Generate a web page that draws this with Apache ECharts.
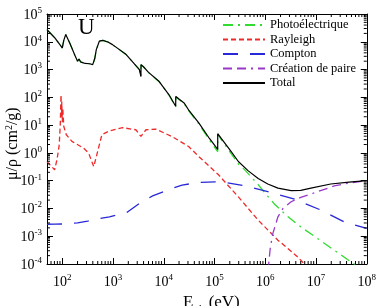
<!DOCTYPE html>
<html>
<head>
<meta charset="utf-8">
<script src="https://cdn.jsdelivr.net/npm/echarts@6/dist/echarts.min.js"></script>
<style>
  html, body { margin: 0; padding: 0; background: #fff; }
  #main { width: 379px; height: 306px; }
</style>
</head>
<body>
<div id="main"></div>
<script>
// énergie en eV, coefficients en cm²/g
const totalE = [50, 70.8, 89, 100, 107, 117, 141, 178, 200, 214, 229, 282, 347, 398, 437, 468, 537, 631, 794, 977,
  1820, 3310, 3548, 3565, 3981, 5012, 8128, 12590, 17170, 17250, 19950, 20650, 20990, 25120, 31620, 48980, 79430,
  115600, 115700, 138000, 199500, 295100, 457000, 724400, 1122000, 1778000, 3236000, 5012000, 7943000, 19500000,
  44700000, 100000000];
const totalMu = [27500, 14000, 8000, 6000, 11200, 18200, 8900, 3200, 2000, 2400, 1900, 1660, 1620, 1510, 2500, 5200,
  10500, 11200, 9800, 7900, 3470, 1000, 560, 1510, 1260, 790, 370, 126, 48, 107, 87, 76, 95, 63, 33, 12, 3.3,
  1.35, 4.9, 3.2, 1.3, 0.49, 0.23, 0.12, 0.076, 0.054, 0.044, 0.045, 0.054, 0.076, 0.089, 0.1];

const photoE = [50, 70.8, 89, 100, 107, 117, 141, 178, 200, 214, 229, 282, 347, 398, 437, 468, 537, 631, 794, 977,
  1820, 3310, 3548, 3565, 3981, 5012, 8128, 12590, 17170, 17250, 19950, 20650, 20990, 25120, 31620, 48980, 79430,
  115600, 115700, 138000, 199500, 295100, 398100, 724400, 1000000, 1549000, 2818000, 5129000, 10720000, 28180000,
  41690000, 100000000];
const photoMu = [27400, 13900, 7950, 5950, 11100, 18100, 8850, 3180, 1990, 2390, 1890, 1650, 1610, 1500, 2490, 5180,
  10450, 11150, 9750, 7850, 3440, 990, 550, 1500, 1250, 780, 365, 123, 46, 104, 84, 73, 92, 60, 31, 11, 2.9,
  1.1, 4.6, 2.9, 1.1, 0.40, 0.24, 0.072, 0.035, 0.0138, 0.005, 0.0021, 0.00083, 0.00024, 0.000145, 0.00005];

const rayE = [50, 57.5, 70.8, 79.4, 87.1, 91.2, 94.4, 96.6, 97.7, 100, 102.3, 107.2, 120.2, 154.9, 263, 331, 417,
  479, 603, 851, 1549, 2818, 3548, 4467, 6918, 14450, 30900, 48980, 120200, 295100, 724400, 1778000, 4365000,
  5888000, 15850000];
const rayMu = [0.49, 0.37, 0.245, 0.63, 1.95, 10, 123, 20, 71, 12.6, 40, 8.9, 4.5, 2.6, 1.48, 0.98, 0.32, 0.85,
  4.5, 6.2, 8.1, 6.8, 3.9, 6.8, 7.2, 3.9, 1.7, 0.74, 0.162, 0.026, 0.0038, 0.00072, 0.00018, 0.0001, 0.000016];

const compE = [50, 70.8, 100, 141, 200, 316, 427, 851, 1820, 3311, 6026, 11750, 22910, 48980, 102300, 138000,
  398100, 1122000, 3802000, 12590000, 35480000, 100000000];
const compMu = [0.0027, 0.00272, 0.00275, 0.0029, 0.003, 0.0035, 0.004, 0.005, 0.0069, 0.0151, 0.0282, 0.0457,
  0.069, 0.087, 0.091, 0.091, 0.065, 0.040, 0.0214, 0.0087, 0.0033, 0.0019];

const pairE = [1023000, 1122000, 1175000, 1259000, 1413000, 1778000, 2239000, 3236000, 5012000, 7943000,
  22910000, 50120000, 100000000];
const pairMu = [0.0000032, 0.00005, 0.000112, 0.0004, 0.00126, 0.005, 0.01, 0.0174, 0.0251, 0.0331, 0.0646,
  0.085, 0.098];

const names = ['Photoélectrique', 'Rayleigh', 'Compton', 'Création de paire', 'Total'];

const xMin = 50, xMax = 1e8, yMin = 1e-4, yMax = 1e5;

// graduations secondaires (2..9 x 10^k)
const xMinor = [], yMinor = [];
for (let k = 1; k < 8; k++) for (let m = 2; m < 10; m++) {
  const v = m * Math.pow(10, k);
  if (v > xMin && v < xMax) xMinor.push([v, 1]);
}
for (let k = -4; k < 5; k++) for (let m = 2; m < 10; m++) yMinor.push([100, m * Math.pow(10, k)]);

const serif = 'Liberation Serif';

function pow10Label(v) {
  const e = Math.round(Math.log10(v));
  if (Math.abs(Math.log10(v) - e) > 1e-6) return '';
  return '{b|10}{s|' + e + '}';
}
const labelRich = {
  b: { fontFamily: serif, fontSize: 14, color: '#000', lineHeight: 16, verticalAlign: 'bottom' },
  s: { fontFamily: serif, fontSize: 9, color: '#000', lineHeight: 16, verticalAlign: 'top' }
};

const pairs = (xs, ys) => xs.map((x, i) => [x, ys[i]]);

const myChart = echarts.init(document.getElementById('main'));

const axisCommon = {
  type: 'log',
  logBase: 10,
  axisLine: { show: true, onZero: false, lineStyle: { color: '#000', width: 1 } },
  axisTick: { show: true, inside: true, length: 6, lineStyle: { color: '#000' } },
  splitLine: { show: false },
  minorTick: { show: false }
};

const option = {
  animation: false,
  backgroundColor: '#fff',
  grid: { left: 47, right: 9, top: 14, bottom: 42 },
  legend: {
    data: names,
    orient: 'vertical',
    left: 222,
    top: 18,
    padding: 0,
    itemWidth: 42,
    itemHeight: 10,
    itemGap: 0.5,
    itemStyle: { opacity: 0 },
    textStyle: { fontFamily: serif, fontSize: 12.5, color: '#000', lineHeight: 14 }
  },
  xAxis: [
    Object.assign({}, axisCommon, {
      min: xMin, max: xMax, splitNumber: 7, position: 'bottom',
      axisLabel: { formatter: pow10Label, rich: labelRich, margin: 9 }
    }),
    Object.assign({}, axisCommon, {
      min: xMin, max: xMax, splitNumber: 7, position: 'top',
      axisLabel: { show: false }
    })
  ],
  yAxis: [
    Object.assign({}, axisCommon, {
      min: yMin, max: yMax, splitNumber: 9, position: 'left',
      axisLabel: { formatter: pow10Label, rich: labelRich, margin: 5 }
    }),
    Object.assign({}, axisCommon, {
      min: yMin, max: yMax, splitNumber: 9, position: 'right',
      axisLabel: { show: false }
    })
  ],
  graphic: [
    { type: 'text', left: 78, top: 16, style: { text: 'U', font: '23px "Liberation Serif"', fill: '#000' } },
    {
      type: 'text', x: 4, y: 180, rotation: Math.PI / 2,
      style: {
        text: 'μ/ρ (cm{s|2}/g)', fill: '#000', font: '16px "Liberation Serif"',
        rich: {
          s: { fontSize: 10, fontFamily: serif, verticalAlign: 'top', lineHeight: 18 }
        }
      }
    },
    {
      type: 'text', x: 183, y: 291,
      style: {
        text: 'E{sub|ph} (eV)', fill: '#000', font: '17px "Liberation Serif"',
        rich: { sub: { fontSize: 11, fontFamily: serif, verticalAlign: 'bottom', lineHeight: 24 } }
      }
    }
  ],
  series: [
    {
      name: 'Photoélectrique', type: 'line', symbol: 'none', z: 2,
      data: pairs(photoE, photoMu),
      lineStyle: { color: '#2fdc2f', width: 1.3, type: [10, 5, 2, 5] },
      itemStyle: { color: '#2fdc2f' }
    },
    {
      name: 'Rayleigh', type: 'line', symbol: 'none', z: 2,
      data: pairs(rayE, rayMu),
      lineStyle: { color: '#ee2a2a', width: 1.3, type: [5, 3] },
      itemStyle: { color: '#ee2a2a' }
    },
    {
      name: 'Compton', type: 'line', symbol: 'none', z: 2,
      data: pairs(compE, compMu),
      lineStyle: { color: '#2828d8', width: 1.3, type: [15, 12] },
      itemStyle: { color: '#2828d8' }
    },
    {
      name: 'Création de paire', type: 'line', symbol: 'none', z: 2,
      data: pairs(pairE, pairMu),
      lineStyle: { color: '#9a38c8', width: 1.3, type: [9, 5, 9, 5, 2, 5] },
      itemStyle: { color: '#9a38c8' }
    },
    {
      name: 'Total', type: 'line', symbol: 'none', z: 3,
      data: pairs(totalE, totalMu),
      lineStyle: { color: '#000', width: 1.2 },
      itemStyle: { color: '#000' }
    },
    {
      type: 'custom', silent: true, clip: false, z: 4,
      data: xMinor,
      renderItem: function (params, api) {
        const v = api.value(0);
        const b = api.coord([v, yMin]);
        const t = api.coord([v, yMax]);
        return {
          type: 'group', children: [
            { type: 'line', shape: { x1: b[0], y1: b[1], x2: b[0], y2: b[1] - 3 }, style: { stroke: '#000', lineWidth: 1 } },
            { type: 'line', shape: { x1: t[0], y1: t[1], x2: t[0], y2: t[1] + 3 }, style: { stroke: '#000', lineWidth: 1 } }
          ]
        };
      }
    },
    {
      type: 'custom', silent: true, clip: false, z: 4,
      data: yMinor,
      renderItem: function (params, api) {
        const v = api.value(1);
        const l = api.coord([xMin, v]);
        const r = api.coord([xMax, v]);
        return {
          type: 'group', children: [
            { type: 'line', shape: { x1: l[0], y1: l[1], x2: l[0] + 3, y2: l[1] }, style: { stroke: '#000', lineWidth: 1 } },
            { type: 'line', shape: { x1: r[0], y1: r[1], x2: r[0] - 3, y2: r[1] }, style: { stroke: '#000', lineWidth: 1 } }
          ]
        };
      }
    }
  ]
};

myChart.setOption(option);
</script>
</body>
</html>
